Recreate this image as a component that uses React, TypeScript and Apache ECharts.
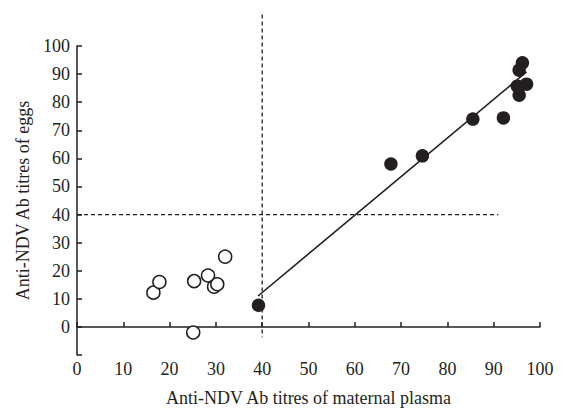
import React, { useEffect, useRef } from "react";
import * as echarts from "echarts";

const xTickLabels = [0, 10, 20, 30, 40, 50, 60, 70, 80, 90, 100];
const yTickLabels = [0, 10, 20, 30, 40, 50, 60, 70, 80, 90, 100];

// Open circles (plasma titre < 40)
const openPoints: [number, number][] = [
  [16.5, 12.2],
  [17.8, 16.0],
  [25.3, 16.3],
  [25.1, -2.0],
  [28.3, 18.3],
  [29.6, 14.3],
  [30.3, 15.2],
  [32.0, 25.0],
];

// Filled circles (plasma titre >= 40)
const filledPoints: [number, number][] = [
  [39.2, 7.7],
  [67.8, 58.0],
  [74.6, 60.9],
  [85.5, 74.0],
  [92.1, 74.4],
  [95.5, 82.5],
  [95.1, 85.7],
  [97.1, 86.4],
  [95.5, 91.4],
  [96.2, 94.0],
];

const regressionLine: [number, number][] = [
  [39.1, 11.0],
  [97.1, 90.8],
];

const verticalCutoff: [number, number][] = [
  [40, 111.2],
  [40, -3.7],
];

const horizontalCutoff: [number, number][] = [
  [0, 40],
  [91, 40],
];

const INK = "#231f20";
const FONT = "'Liberation Serif', 'DejaVu Serif', serif";

export default function App() {
  const ref = useRef<HTMLDivElement>(null);

  useEffect(() => {
    if (!ref.current) return;
    const chart = echarts.init(ref.current, undefined, { renderer: "svg" });
    chart.setOption({
      animation: false,
      backgroundColor: "#ffffff",
      grid: { left: 77, right: 28, top: 46, bottom: 56 },
      xAxis: [
        {
          type: "value",
          min: 0,
          max: 100,
          interval: 10,
          position: "bottom",
          axisLine: { show: true, onZero: true, lineStyle: { color: INK, width: 1.5 } },
          axisTick: { show: true, inside: true, length: 5, lineStyle: { color: INK, width: 1.5 } },
          axisLabel: { show: false },
          splitLine: { show: false },
        },
        {
          type: "value",
          min: 0,
          max: 100,
          interval: 10,
          position: "bottom",
          axisLine: { show: false, onZero: false },
          axisTick: { show: false },
          splitLine: { show: false },
          axisLabel: {
            show: true,
            margin: 5,
            color: INK,
            fontFamily: FONT,
            fontSize: 18,
            formatter: (v: number) => (xTickLabels.includes(v) ? String(v) : ""),
          },
          name: "Anti-NDV Ab titres of maternal plasma",
          nameLocation: "middle",
          nameGap: 34,
          nameTextStyle: { color: INK, fontFamily: FONT, fontSize: 18 },
        },
      ],
      yAxis: {
        type: "value",
        min: -10,
        max: 100,
        interval: 10,
        axisLine: { show: true, onZero: false, lineStyle: { color: INK, width: 1.5 } },
        axisTick: { show: true, inside: true, length: 5, lineStyle: { color: INK, width: 1.5 } },
        splitLine: { show: false },
        axisLabel: {
          margin: 7,
          color: INK,
          fontFamily: FONT,
          fontSize: 18,
          formatter: (v: number) => (yTickLabels.includes(v) ? String(v) : ""),
        },
        name: "Anti-NDV Ab titres of eggs",
        nameLocation: "middle",
        nameGap: 43,
        nameTextStyle: { color: INK, fontFamily: FONT, fontSize: 18 },
      },
      series: [
        {
          type: "line",
          data: verticalCutoff,
          clip: false,
          symbol: "none",
          lineStyle: { color: INK, width: 1.3, type: [4, 3] },
          silent: true,
        },
        {
          type: "line",
          data: horizontalCutoff,
          symbol: "none",
          lineStyle: { color: INK, width: 1.3, type: [4, 3] },
          silent: true,
        },
        {
          type: "line",
          data: regressionLine,
          symbol: "none",
          lineStyle: { color: INK, width: 1.6 },
          silent: true,
        },
        {
          type: "scatter",
          data: openPoints,
          symbol: "circle",
          symbolSize: 13,
          itemStyle: { color: "#ffffff", borderColor: INK, borderWidth: 1.5, opacity: 1 },
          z: 3,
        },
        {
          type: "scatter",
          data: filledPoints,
          symbol: "circle",
          symbolSize: 13.5,
          itemStyle: { color: INK, opacity: 1 },
          z: 3,
        },
      ],
    });
    return () => chart.dispose();
  }, []);

  return (
    <div
      ref={ref}
      style={{ position: "fixed", left: 0, top: 0, width: 568, height: 412, background: "#fff" }}
    />
  );
}
